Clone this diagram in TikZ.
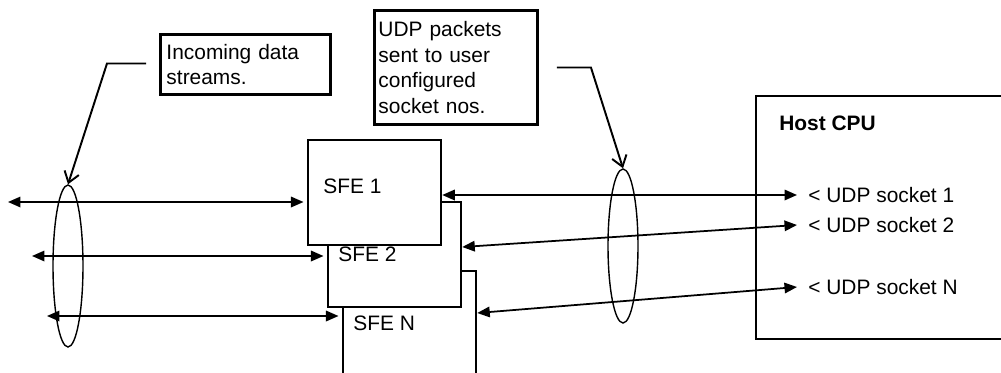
\documentclass[tikz,border=0pt]{standalone}
\usepackage{fontspec}
\setmainfont{Liberation Sans}
\usetikzlibrary{arrows.meta,shapes.geometric,calc}

\tikzset{
        lbl/.style={font=\fontsize{11.9}{14.5}\selectfont, inner sep=0pt},
        hostlbl/.style={font=\fontsize{11.9}{14.5}\selectfont\bfseries, inner sep=0pt},
        notebox/.style={draw, line width=1.7pt, lbl, align=left, anchor=north west},
        sfebox/.style={draw, line width=1.3pt, fill=white, anchor=north west, minimum width=2.66cm, minimum height=2.1cm, inner sep=0pt},
        bundle/.style={draw, ellipse, line width=0.8pt, minimum width=0.6cm, inner sep=0pt},
        link/.style={line width=1pt, {Triangle[length=0.25cm,width=0.21cm]}-{Triangle[length=0.25cm,width=0.21cm]}},
        lead/.style={line width=1.1pt, -{Straight Barb[length=0.21cm,width=0.3cm]}}
}

\begin{document}
\begin{tikzpicture}[x=0.02cm, y=-0.02cm]

        \useasboundingbox (0,0) rectangle (1001,372);
        \clip (0,0) rectangle (1001,372);

        \node[notebox, text width=3.16cm, inner xsep=0.12cm, minimum height=1.2cm] (incoming) at (159,33) {Incoming data\\streams.};
        \node[notebox, text width=3.1cm, inner xsep=0.08cm, minimum height=2.28cm] (udp) at (373,9) {UDP packets\\sent to user\\configured\\socket nos.};

        \node[sfebox] (sfeN) at (342,270) {};
        \node[sfebox] (sfe2) at (327,201) {};
        \node[sfebox] (sfe1) at (307,139) {};
        \node[lbl, anchor=base west] (sfe1txt) at (323,193) {SFE 1};
        \node[lbl, anchor=base west] (sfe2txt) at (338,261) {SFE 2};
        \node[lbl, anchor=base west] (sfeNtxt) at (353,330) {SFE N};

        \node[draw, line width=1.3pt, anchor=north west, minimum width=6cm, minimum height=4.86cm] (host) at (755,95) {};
        \node[hostlbl, anchor=base west] (hosttxt) at (779,130) {Host CPU};
        \node[lbl, anchor=west, inner xsep=0.22cm] (sock1) at (797,195) {< UDP socket 1};
        \node[lbl, anchor=west, inner xsep=0.22cm] (sock2) at (797,225) {< UDP socket 2};
        \node[lbl, anchor=west, inner xsep=0.22cm] (sockN) at (797,287) {< UDP socket N};

        \node[bundle, minimum height=3.24cm] (grpL) at (68,266) {};
        \node[bundle, minimum height=3.08cm] (grpR) at (623,246) {};

        \coordinate (src1) at (8,202);
        \coordinate (src2) at (32,256);
        \coordinate (src3) at (47,316);
        \draw[link, shorten >=2pt] (src1) -- (src1 -| sfe1.west);
        \draw[link, shorten >=2pt] (src2) -- (src2 -| sfe2.west);
        \draw[link, shorten >=2pt] (src3) -- (src3 -| sfeN.west);

        \draw[link] (sock1.west -| sfe1.east) -- (sock1.west);
        \draw[link] ($(sfe2.north east)+(0,46)$) -- (sock2.west);
        \draw[link] ($(sfeN.north east)+(0,43)$) -- (sockN.west);

        \draw[lead] ($(incoming.west)+(-13,-1)$) -- ++(-39,0) -- (grpL.north);
        \draw[lead] ($(udp.east)+(18,0)$) -- ++(34,0) -- (grpR.north);

\end{tikzpicture}
\end{document}
